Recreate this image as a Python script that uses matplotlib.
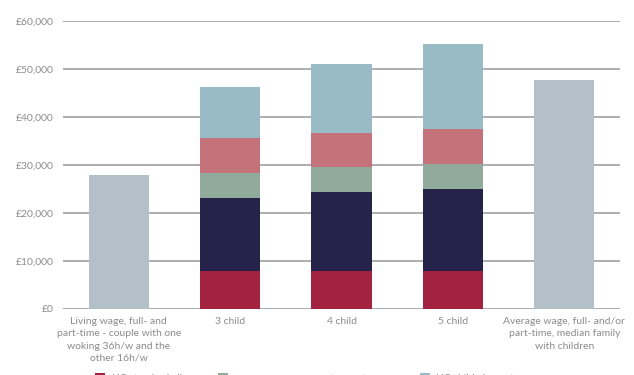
import numpy as np
import matplotlib.pyplot as plt
from matplotlib.patches import Patch

categories = ["Living wage, full- and\npart-time - couple with one\nwoking 36h/w and the\nother 16h/w",
              "3 child", "4 child", "5 child",
              "Average wage, full- and/or\npart-time, median family\nwith children"]

# totals for the single wage bars
wage_totals = [28000, 0, 0, 0, 47700]

# stacked UC components for the 3, 4, 5 child bars
uc_standard = [0, 7900, 7900, 7900, 0]
uc_housing = [0, 15200, 16500, 17100, 0]
uc_lcwra = [0, 5200, 5200, 5200, 0]
uc_childcare = [0, 7300, 7100, 7300, 0]
uc_child = [0, 10650, 14300, 17700, 0]

series = [
    ("UC standard allowance", uc_standard, "#a32240"),
    ("UC housing element", uc_housing, "#26234b"),
    ("UC LCWRA element (1 child)", uc_lcwra, "#90ab9b"),
    ("UC childcare element (85% of costs met)", uc_childcare, "#c5737b"),
    ("UC child element", uc_child, "#98bbc7"),
]

yticks = [0, 10000, 20000, 30000, 40000, 50000, 60000]
ytick_labels = ["£0", "£10,000", "£20,000", "£30,000", "£40,000", "£50,000", "£60,000"]

plt.rcParams['font.family'] = ['Lato', 'DejaVu Sans']
grey_text = "#8c8c8c"

fig = plt.figure(figsize=(6.34, 3.75), dpi=100)
ax = fig.add_axes([0.0994, 0.176, 0.8786, 0.768])

x = np.arange(len(categories))
w = 0.54

ax.bar(x, wage_totals, width=w, color="#b3c0c8", zorder=3)
bottom = np.zeros(len(categories))
handles = []
for name, vals, col in series:
    ax.bar(x, vals, width=w, bottom=bottom, color=col, zorder=3)
    bottom += np.array(vals)
    handles.append(Patch(facecolor=col, label=name))

ax.set_xlim(-0.5, 4.5)
ax.set_ylim(0, 60000)
ax.set_yticks(yticks)
ax.set_yticklabels(ytick_labels)
ax.grid(axis='y', color="#a0a0a0", linewidth=1.2, zorder=0)
ax.set_xticks(x)
ax.set_xticklabels(categories, linespacing=1.45)
ax.tick_params(axis='both', length=0, colors=grey_text, labelsize=7.5)
ax.tick_params(axis='x', pad=6)
ax.tick_params(axis='y', pad=7)
for s in ax.spines.values():
    s.set_visible(False)

fig.legend(handles=handles, ncol=3, loc='upper left', bbox_to_anchor=(0.135, 0.03),
           frameon=False, fontsize=7.5, labelcolor=grey_text, handlelength=1.0,
           handleheight=1.0, handletextpad=0.6, columnspacing=0.1)

fig.savefig("out.png", dpi=100)
